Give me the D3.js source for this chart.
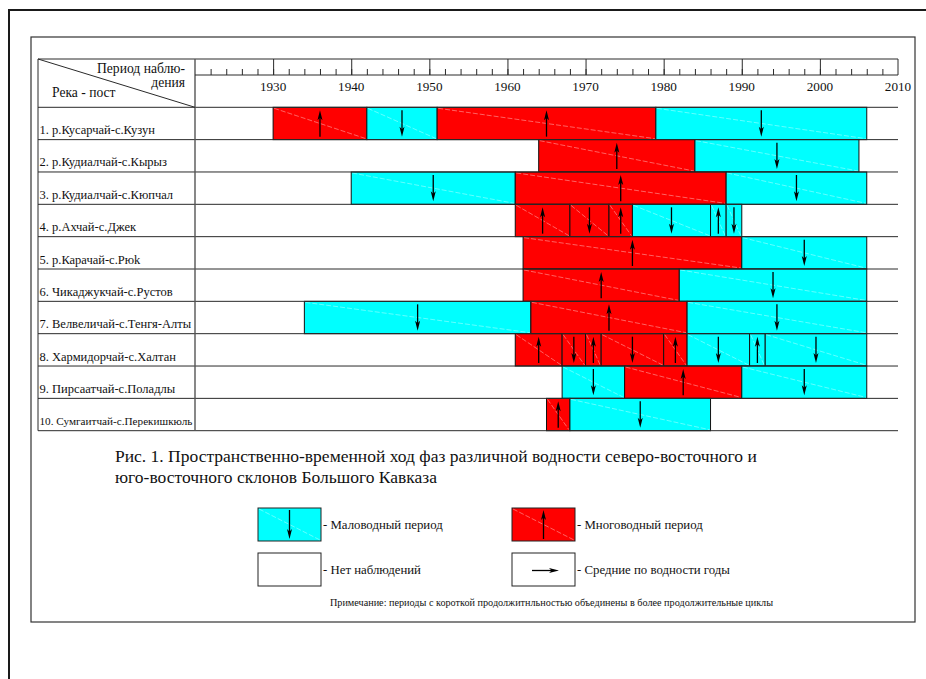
<!DOCTYPE html>
<html>
<head>
<meta charset="utf-8">
<script src="https://cdn.jsdelivr.net/npm/d3@7"></script>
<style>
  html, body { margin: 0; padding: 0; background: #fff; }
  svg { display: block; }
</style>
</head>
<body>
<svg id="chart" width="926" height="679"></svg>
<script>
// River gauging stations (row labels)
const stations = [
  "1. р.Кусарчай-с.Кузун",
  "2. р.Кудиалчай-с.Кырыз",
  "3. р.Кудиалчай-с.Кюпчал",
  "4. р.Ахчай-с.Джек",
  "5. р.Карачай-с.Рюk",
  "6. Чикаджукчай-с.Рустов",
  "7. Велвеличай-с.Тенгя-Алты",
  "8. Хармидорчай-с.Халтан",
  "9. Пирсаатчай-с.Поладлы",
  "10. Сумгаитчай-с.Перекишкюль"
];

// Phase boundaries (years) for each station
const phaseBounds = [
  [1930, 1942, 1951, 1979, 2006],
  [1964, 1984, 2005],
  [1940, 1961, 1988, 2006],
  [1961, 1968, 1973, 1976, 1986, 1988, 1990],
  [1962, 1990, 2006],
  [1962, 1982, 2006],
  [1934, 1963, 1983, 2006],
  [1961, 1967, 1970, 1972, 1980, 1983, 1991, 1993, 2006],
  [1967, 1975, 1990, 2006],
  [1965, 1968, 1986]
];

// Fill of each phase: H = многоводный, L = маловодный
const phaseFill = ["HLHL", "HL", "LHL", "HHHLLL", "HL", "HL", "LHL", "HHHHHLLL", "LHL", "HL"];

// Arrow of each phase: U = up, D = down
const phaseArrow = ["UDUD", "UD", "DUD", "UDUDUD", "UD", "UD", "DUD", "UDUDUDUD", "DUD", "UD"];

// Time axis
const yearDomain = [1920, 2010];
const yearLabels = [1930, 1940, 1950, 1960, 1970, 1980, 1990, 2000, 2010];

// Legend entries
const legendItems = [
  { kind: "L", label: "- Маловодный период" },
  { kind: "H", label: "- Многоводный период" },
  { kind: "none", label: "- Нет наблюдений" },
  { kind: "mean", label: "- Средние по водности годы" }
];

const captionLines = [
  "Рис. 1. Пространственно-временной ход фаз различной водности северо-восточного и",
  "юго-восточного склонов Большого Кавказа"
];
const noteText = "Примечание: периоды с короткой продолжитнльностью объединены в более продолжительные циклы";

const colors = { H: "#ff0000", L: "#00ffff" };
const serif = "Liberation Serif, Tinos, Times New Roman, DejaVu Serif, serif";

const svg = d3.select("#chart").style("font-family", serif);

// Page frames
svg.append("path")
  .attr("d", "M9,690 L9,10 L940,10")
  .attr("fill", "none").attr("stroke", "#1a1a1a").attr("stroke-width", 2);
svg.append("rect")
  .attr("x", 31).attr("y", 37).attr("width", 884).attr("height", 585)
  .attr("fill", "none").attr("stroke", "#333").attr("stroke-width", 1.2);

// Table geometry
const tableLeft = 38, colSep = 195, tableRight = 898;
const headTop = 59, scaleBottom = 75, headBottom = 107.3;
const rowH = 32.34;

const x = d3.scaleLinear().domain(yearDomain).range([colSep, tableRight]);
const y = d3.scaleBand().domain(d3.range(stations.length))
  .range([headBottom, headBottom + rowH * stations.length]).paddingInner(0).paddingOuter(0);
const tableBottom = headBottom + rowH * stations.length;

const lineCol = "#2a2a2a";

// Arrow helper: line with a narrow filled head
function arrow(g, x1, y1, x2, y2) {
  const len = Math.hypot(x2 - x1, y2 - y1);
  const ux = (x2 - x1) / len, uy = (y2 - y1) / len;
  const hl = 10, hw = 2.5;
  const bx = x2 - ux * hl, by = y2 - uy * hl;
  g.append("line").attr("x1", x1).attr("y1", y1).attr("x2", bx + ux * 3).attr("y2", by + uy * 3)
    .attr("stroke", "#000").attr("stroke-width", 1.3);
  g.append("path")
    .attr("d", `M${x2},${y2} L${bx - uy * hw},${by + ux * hw} L${bx + ux * 2.5},${by + uy * 2.5} L${bx + uy * hw},${by - ux * hw} Z`)
    .attr("fill", "#000");
}

// Phase bars
const bars = svg.append("g");
stations.forEach((s, i) => {
  const b = phaseBounds[i];
  const y0 = y(i), y1 = y(i) + y.bandwidth();
  for (let k = 0; k < b.length - 1; k++) {
    const x0 = x(b[k]), x1 = x(b[k + 1]);
    const f = phaseFill[i][k];
    bars.append("rect")
      .attr("x", x0).attr("y", y0).attr("width", x1 - x0).attr("height", y1 - y0)
      .attr("fill", colors[f]).attr("stroke", "#111").attr("stroke-width", 1);
    bars.append("line")
      .attr("x1", x0 + 1).attr("y1", y0 + 1).attr("x2", x1 - 1).attr("y2", y1 - 1)
      .attr("stroke", "#fff").attr("stroke-opacity", 0.55).attr("stroke-width", 0.7)
      .attr("stroke-dasharray", "5,2");
    const xm = x((b[k] + b[k + 1]) / 2);
    if (phaseArrow[i][k] === "U") arrow(bars, xm, y1 - 3, xm, y0 + 3);
    else arrow(bars, xm, y0 + 3, xm, y1 - 3);
  }
});

// Grid lines of the table
const grid = svg.append("g").attr("stroke", lineCol).attr("stroke-width", 1);
d3.range(stations.length + 1).forEach(i => {
  const yy = headBottom + rowH * i;
  grid.append("line").attr("x1", tableLeft).attr("x2", tableRight).attr("y1", yy).attr("y2", yy);
});
grid.append("line").attr("x1", tableLeft).attr("x2", tableRight).attr("y1", headTop).attr("y2", headTop);
grid.append("line").attr("x1", tableLeft).attr("x2", tableLeft).attr("y1", headTop).attr("y2", tableBottom);
grid.append("line").attr("x1", colSep).attr("x2", colSep).attr("y1", headTop).attr("y2", tableBottom)
  .attr("stroke", "#555").attr("stroke-width", 1.4);
grid.append("line").attr("x1", tableLeft).attr("x2", colSep).attr("y1", headTop).attr("y2", headBottom);
grid.append("line").attr("x1", colSep).attr("x2", tableRight).attr("y1", scaleBottom).attr("y2", scaleBottom);
grid.append("line").attr("x1", tableRight).attr("x2", tableRight).attr("y1", headTop).attr("y2", scaleBottom);

// Time scale: minor ticks every 2 years, major every 10 years
const minorAxis = d3.axisTop(x).tickValues(d3.range(1922, 2010, 2)).tickSize(6).tickFormat("");
const majorAxis = d3.axisTop(x).tickValues(d3.range(1930, 2010, 10)).tickSize(16).tickFormat("");
[minorAxis, majorAxis].forEach(ax => {
  const g = svg.append("g").attr("transform", `translate(0,${scaleBottom})`).call(ax);
  g.select(".domain").remove();
  g.selectAll("line").attr("stroke", lineCol).attr("stroke-width", 1);
});

const txt = (sel) => sel.style("font-family", serif).attr("fill", "#111");

svg.append("g").selectAll("text").data(yearLabels).join("text")
  .attr("x", d => x(d)).attr("y", 91).attr("text-anchor", "middle")
  .attr("font-size", 13.2).call(txt).text(d => d);

// Header labels
svg.append("text").attr("x", 185).attr("y", 73).attr("text-anchor", "end")
  .attr("font-size", 13.6).call(txt).text("Период наблю-");
svg.append("text").attr("x", 185).attr("y", 87).attr("text-anchor", "end")
  .attr("font-size", 13.6).call(txt).text("дения");
svg.append("text").attr("x", 52).attr("y", 97)
  .attr("font-size", 13.6).call(txt).text("Река - пост");

// Station labels
svg.append("g").selectAll("text").data(stations).join("text")
  .attr("x", 39.5).attr("y", (d, i) => y(i) + y.bandwidth() - 5.5)
  .attr("font-size", (d, i) => i === 9 ? 11.2 : 12.5).call(txt)
  .text(d => d);

// Caption
svg.append("g").selectAll("text").data(captionLines).join("text")
  .attr("x", 115).attr("y", (d, i) => 461.5 + i * 21)
  .attr("font-size", 17.5).call(txt).text(d => d);

// Legend
const legendPos = [
  { bx: 258, by: 508, tx: 323 },
  { bx: 512, by: 508, tx: 577 },
  { bx: 258, by: 553, tx: 323 },
  { bx: 512, by: 553, tx: 577 }
];
const boxW = 63, boxH = 33;
legendItems.forEach((it, i) => {
  const p = legendPos[i];
  const g = svg.append("g");
  g.append("rect").attr("x", p.bx).attr("y", p.by).attr("width", boxW).attr("height", boxH)
    .attr("fill", colors[it.kind] || "#fff").attr("stroke", "#222").attr("stroke-width", 1);
  if (it.kind === "H" || it.kind === "L") {
    g.append("line").attr("x1", p.bx + 1).attr("y1", p.by + 1).attr("x2", p.bx + boxW - 1).attr("y2", p.by + boxH - 1)
      .attr("stroke", "#fff").attr("stroke-opacity", 0.55).attr("stroke-width", 0.7).attr("stroke-dasharray", "5,2");
    const xm = p.bx + boxW / 2;
    if (it.kind === "H") arrow(g, xm, p.by + boxH - 2, xm, p.by + 2);
    else arrow(g, xm, p.by + 2, xm, p.by + boxH - 2);
  } else if (it.kind === "mean") {
    arrow(g, p.bx + 20, p.by + boxH / 2 + 1, p.bx + 47, p.by + boxH / 2 + 1);
  }
  g.append("text").attr("x", p.tx).attr("y", p.by + boxH / 2 + 4.5)
    .attr("font-size", 12.8).call(txt).text(it.label);
});

// Note
svg.append("text").attr("x", 551.5).attr("y", 606).attr("text-anchor", "middle")
  .attr("font-size", 10.2).call(txt).text(noteText);
</script>
</body>
</html>
